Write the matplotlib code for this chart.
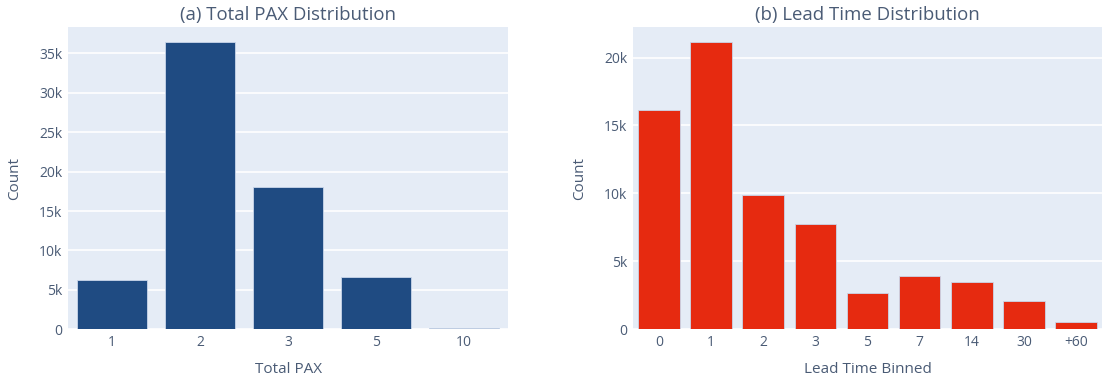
import numpy as np
import matplotlib.pyplot as plt

# Datos
pax_cats = ["1", "2", "3", "5", "10"]
pax_counts = [6300, 36450, 18050, 6600, 200]

lead_cats = ["0", "1", "2", "3", "5", "7", "14", "30", "+60"]
lead_counts = [16170, 21150, 9870, 7750, 2680, 3920, 3500, 2060, 540]

plt.rcParams["font.family"] = ["Open Sans", "DejaVu Sans"]
txt = "#4a5b75"
bg = "#E5ECF6"

fig = plt.figure(figsize=(11.02, 3.78), dpi=100)
ax1 = fig.add_axes([0.0617, 0.1288, 0.3993, 0.7998])
ax2 = fig.add_axes([0.5744, 0.1288, 0.4256, 0.7998])


def panel(ax, cats, vals, color, title, xlabel, ticks):
    x = np.arange(len(cats))
    ax.set_facecolor(bg)
    ax.bar(x, vals, width=0.8, color=color, edgecolor="#c9d6ea", linewidth=0.6, zorder=3)
    ax.set_xlim(-0.5, len(cats) - 0.5)
    ax.set_ylim(0, max(vals) * 1.052)
    ax.set_xticks(x)
    ax.set_xticklabels(cats)
    ax.set_yticks(ticks)
    ax.set_yticklabels(["0" if t == 0 else f"{t // 1000}k" for t in ticks])
    ax.grid(axis="y", color="white", linewidth=1.2, zorder=0)
    for s in ax.spines.values():
        s.set_visible(False)
    ax.tick_params(length=0, labelsize=10, labelcolor=txt, pad=4)
    ax.set_title(title, fontsize=13.4, color=txt, pad=5)
    ax.set_xlabel(xlabel, fontsize=11, color=txt, labelpad=9)
    ax.set_ylabel("Count", fontsize=11, color=txt, labelpad=12)


panel(ax1, pax_cats, pax_counts, "#1f4b82", "(a) Total PAX Distribution",
      "Total PAX", list(range(0, 35001, 5000)))
panel(ax2, lead_cats, lead_counts, "#e62a10", "(b) Lead Time Distribution",
      "Lead Time Binned", list(range(0, 20001, 5000)))

fig.savefig("out.png", dpi=100, facecolor="white")
